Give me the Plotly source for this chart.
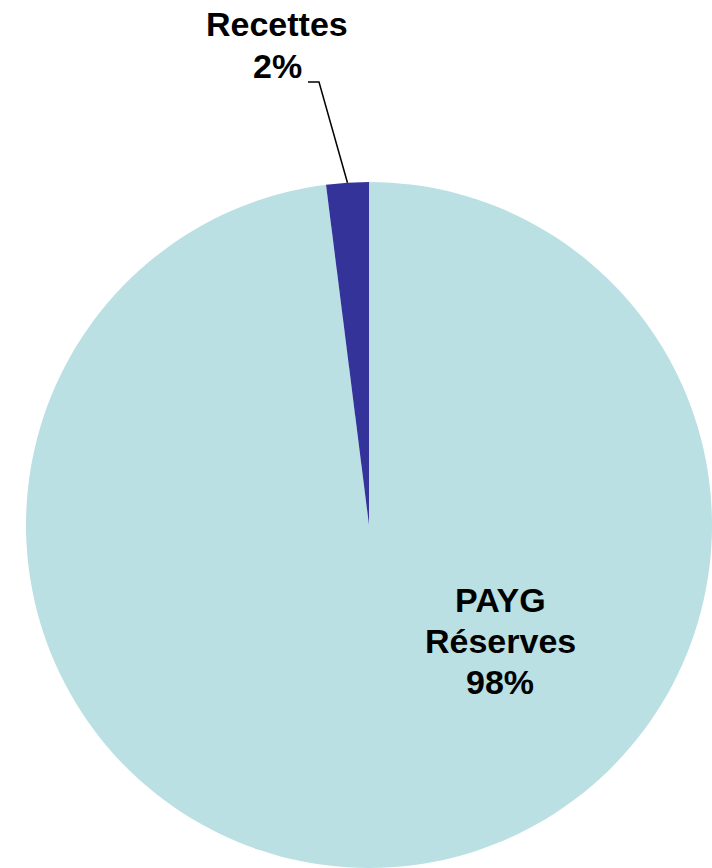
import math
import plotly.graph_objects as go

labels = ["PAYG Réserves", "Recettes"]
values = [98, 2]
colors = ["#BAE0E3", "#333399"]

W, H = 712, 868
cx, cy, r = 369, 525, 343  # pixel centre / radius of the pie

fig = go.Figure(go.Pie(
    labels=labels,
    values=values,
    sort=False,
    direction="clockwise",
    rotation=0,
    marker=dict(colors=colors, line=dict(width=0)),
    textinfo="none",
    hoverinfo="label+percent",
    showlegend=False,
    domain=dict(x=[(cx - r) / W, (cx + r) / W], y=[(H - cy - r) / H, (H - cy + r) / H]),
))

font = dict(family="Liberation Sans, Arial, sans-serif", size=34, color="black")


def line_label(text, x, y):
    fig.add_annotation(
        x=x / W, y=1 - y / H, xref="paper", yref="paper",
        xanchor="center", yanchor="middle",
        text="<b>%s</b>" % text, showarrow=False, font=font, align="center",
    )


# inside label for the large slice
for i, t in enumerate(["PAYG", "Réserves", "%d%%" % values[0]]):
    line_label(t, 500, 600 + 41 * i)

# outside label for the small slice
for i, t in enumerate(["Recettes", "%d%%" % values[1]]):
    line_label(t, 277, 24 + 42 * i)

# leader line: from label to the mid-angle of the Recettes slice on the rim
mid = 360 * (values[0] + values[1] / 2) / sum(values)
ex = cx + r * math.sin(math.radians(mid))
ey = cy - r * math.cos(math.radians(mid))
path = "M %f %f L %f %f L %f %f" % (
    308 / W, 1 - 82 / H, 319 / W, 1 - 82 / H, ex / W, 1 - ey / H)
fig.add_shape(type="path", path=path, xref="paper", yref="paper",
              line=dict(color="black", width=1.5))

fig.update_layout(
    width=W, height=H,
    margin=dict(l=0, r=0, t=0, b=0),
    paper_bgcolor="white", plot_bgcolor="white",
)

fig.write_html("out.html", config={"displayModeBar": False},
               post_script="document.body.style.margin='0px';")
